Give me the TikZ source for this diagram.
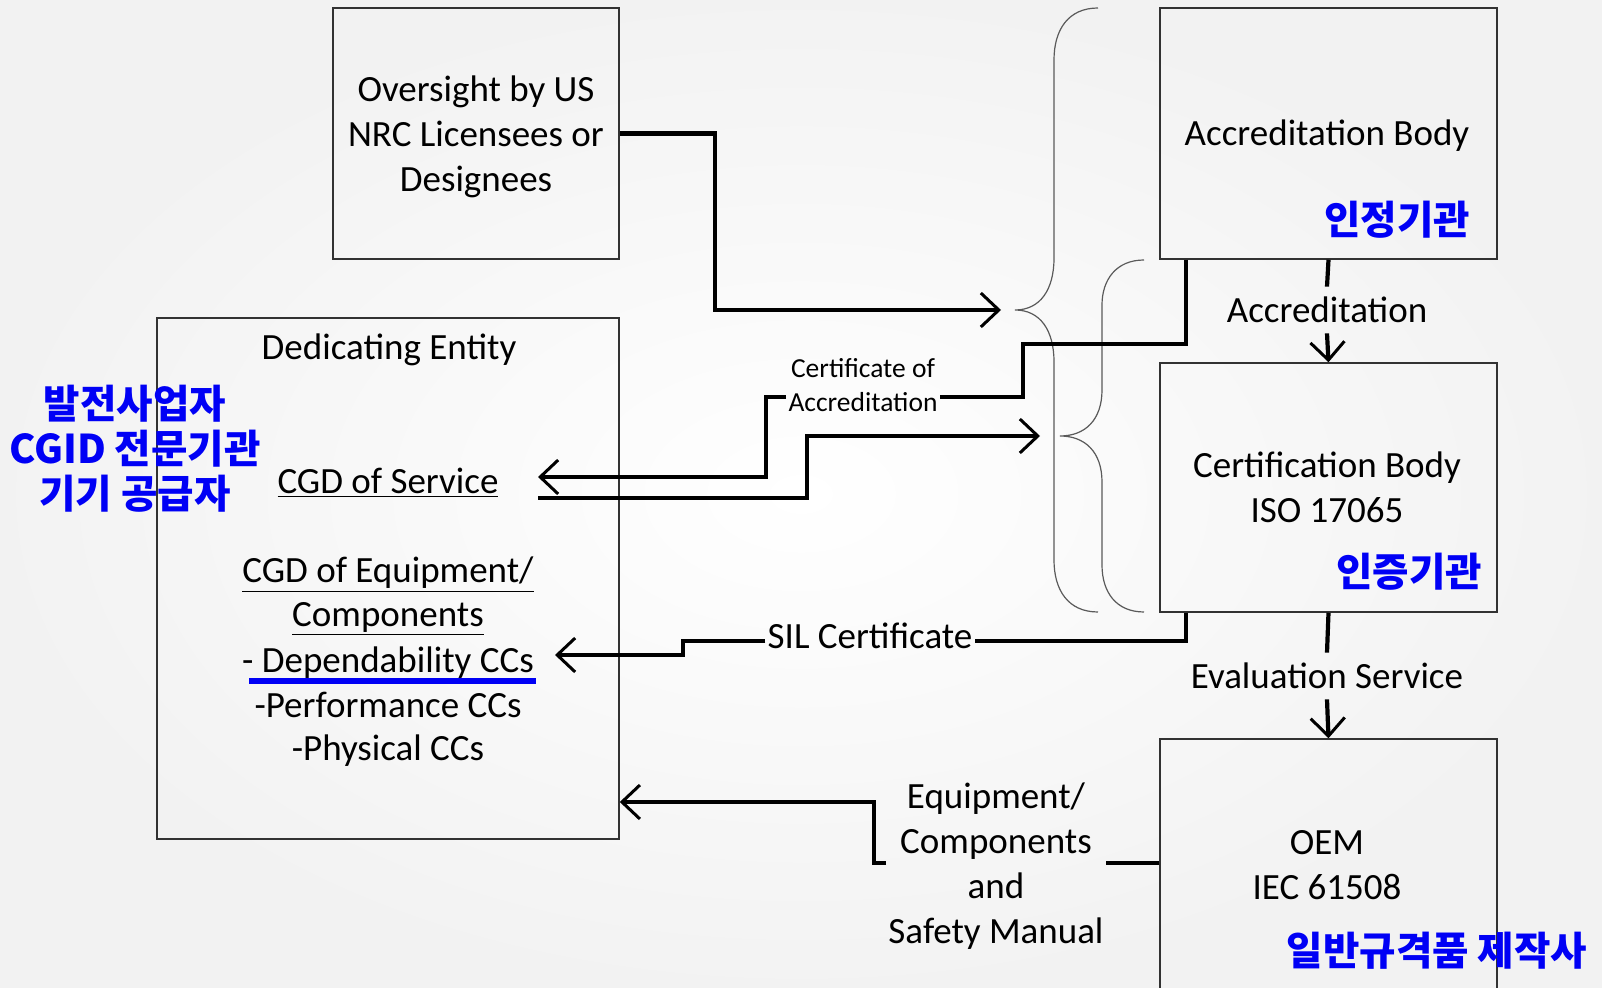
\documentclass[tikz,border=0pt]{standalone}
\usepackage{fontspec}
\setmainfont{Carlito}
\newfontfamily\kr{Noto Sans CJK KR}
\usetikzlibrary{arrows.meta,calc}
\definecolor{krblue}{RGB}{0,0,245}
\definecolor{boxline}{RGB}{50,50,50}
\definecolor{bracec}{RGB}{90,90,90}
\begin{document}
\begin{tikzpicture}[x=0.5pt,y=-0.5pt,
  box/.style={draw=boxline,line width=0.75pt,inner sep=0pt},
  txt/.style={font=\fontsize{18.5}{22.5}\selectfont,align=center,inner sep=1pt},
  lbl/.style={txt,inner ysep=5pt},
  small/.style={font=\fontsize{13.75}{16.5}\selectfont,inner sep=1pt},
  kor/.style={font=\kr\bfseries\fontsize{19.8}{22.5}\selectfont,text=krblue,align=center,inner sep=0pt},
  conn/.style={line width=2.1pt,line join=miter},
  arr/.style={conn,-{Straight Barb[length=9pt,width=17pt,line width=1.5pt]}},
  brace/.style={draw=bracec,line width=0.6pt}
]
\clip (0,0) rectangle (1602,988);
\shade[inner color=white,outer color=black!5] (0,0) rectangle (1602,988);

% boxes
\node[box,minimum width=143pt,minimum height=125.5pt] (ov) at (476,133.5) {};
\node[box,minimum width=168.5pt,minimum height=125.5pt] (ab) at (1328.5,133.5) {};
\node[box,minimum width=231pt,minimum height=260.5pt] (de) at (388,578.5) {};
\node[box,minimum width=168.5pt,minimum height=124.5pt] (cb) at (1328.5,487.5) {};
\node[box,minimum width=168.5pt,minimum height=135pt] (oem) at (1328.5,874) {};

% texts
\node[txt] (ovt) at (476,137) {Oversight by US\\NRC Licensees or\\Designees};
\node[txt] (abt) at (1327,136) {Accreditation Body};
\node[kor] (abk) at (1397,220) {인정기관};
\node[lbl] (accl) at (1327,310) {Accreditation};
\node[txt] (cbt) at (1327,487) {Certification Body\\ISO 17065};
\node[kor] (cbk) at (1409,572) {인증기관};
\node[lbl] (evl) at (1327,676) {Evaluation Service};
\node[txt] (oemt) at (1327,865) {OEM\\IEC 61508};
\node[kor] (oemk) at (1437,951) {일반규격품 제작사};
\node[txt] (det) at (389,350) {Dedicating Entity};
\node[kor] (dek) at (135,449) {발전사업자\\CGID 전문기관\\기기 공급자};
\node[txt] (svc) at (388,483) {\underline{CGD of Service}};
\node[txt] (eq1) at (388,575) {\underline{CGD of Equipment/}};
\node[txt] (eq2) at (388,619) {\underline{Components}};
\node[txt] (dep) at (388,663) {- Dependability CCs};
\node[txt] (perf) at (388,705) {-Performance CCs};
\node[txt] (phys) at (388,751) {-Physical CCs};
\fill[krblue] (249,678) rectangle (536,684);
\node[small] (coa1) at (863,368) {Certificate of};
\node[small] (coa2) at (863,402) {Accreditation};
\node[txt] (sil) at (870,636) {SIL Certificate};
\node[txt] (eqm) at (996,866) {Equipment/\\Components\\and\\Safety Manual};

% braces
\draw[brace] (1098,8) .. controls (1068,8) and (1054,30) .. (1054,60) -- (1054,258)
  .. controls (1054,290) and (1040,310) .. (1015,310)
  .. controls (1040,310) and (1054,330) .. (1054,362) -- (1054,560)
  .. controls (1054,590) and (1068,612) .. (1098,612);
\draw[brace] (1144,260) .. controls (1116,260) and (1102,280) .. (1102,305) -- (1102,390)
  .. controls (1102,420) and (1085,436) .. (1060,436)
  .. controls (1085,436) and (1102,452) .. (1102,482) -- (1102,565)
  .. controls (1102,592) and (1116,612) .. (1144,612);

% free ends
\coordinate (b1) at (1001,310);
\coordinate (b2) at (1040,436);
\coordinate (svcin) at (538,477);
\coordinate (svcout) at (538,498);
\coordinate (depin) at (555,655);
\coordinate (eqk) at (874,802);

% connectors
\draw[arr] (ov.east) -- (715,133.5) |- (b1);
\draw[conn] ($(ab.south west)+(27,0)$) |- (1023,344) |- ($(coa2.east)+(0,-5)$);
\draw[arr] ($(coa2.west)+(0,-5)$) -| (766,477) -- (svcin);
\draw[arr] (svcout) -| (807,436) -- (b2);
\draw[conn] ($(cb.south west)+(27,0)$) |- ($(sil.east)+(0,5)$);
\draw[arr] ($(sil.west)+(0,5)$) -| (683,655) -- (depin);
\draw[conn] (ab.south) -- (accl.north);
\draw[arr] (accl.south) -- (cb.north);
\draw[conn] (cb.south) -- (evl.north);
\draw[arr] (evl.south) -- (oem.north);
\draw[conn] ($(eqm.east -| oem.west)+(0,-3)$) -- ($(eqm.east)+(0,-3)$);
\draw[arr] ($(eqm.west)+(0,-3)$) -| (eqk) -- (eqk -| de.east);
\end{tikzpicture}
\end{document}
